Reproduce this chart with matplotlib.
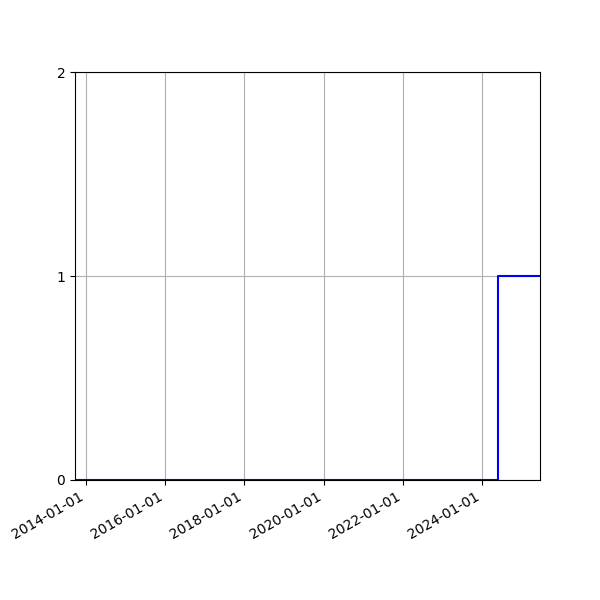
import matplotlib
matplotlib.use('Agg')
import matplotlib.pyplot as plt
import matplotlib.dates as mdates
import numpy as np
import pandas as pd

# step series
dates = ['2013-09-20', '2024-05-28', '2025-06-20']
values = [0, 1, 1]


def main():
    x = pd.to_datetime(dates)
    fig, ax = plt.subplots(figsize=(6, 6), dpi=100)
    ax.plot(x, values, color='b', drawstyle='steps-post')
    ax.set_xlim(x[0], x[-1])
    ax.set_ylim(0, 2)
    ax.set_yticks([0, 1, 2])
    ax.xaxis.set_major_locator(mdates.YearLocator(2))
    ax.xaxis.set_major_formatter(mdates.DateFormatter('%Y-%m-%d'))
    ax.grid(True)
    fig.autofmt_xdate()
    fig.savefig('out.png')
    plt.close(fig)


if __name__ == "__main__":
    main()
